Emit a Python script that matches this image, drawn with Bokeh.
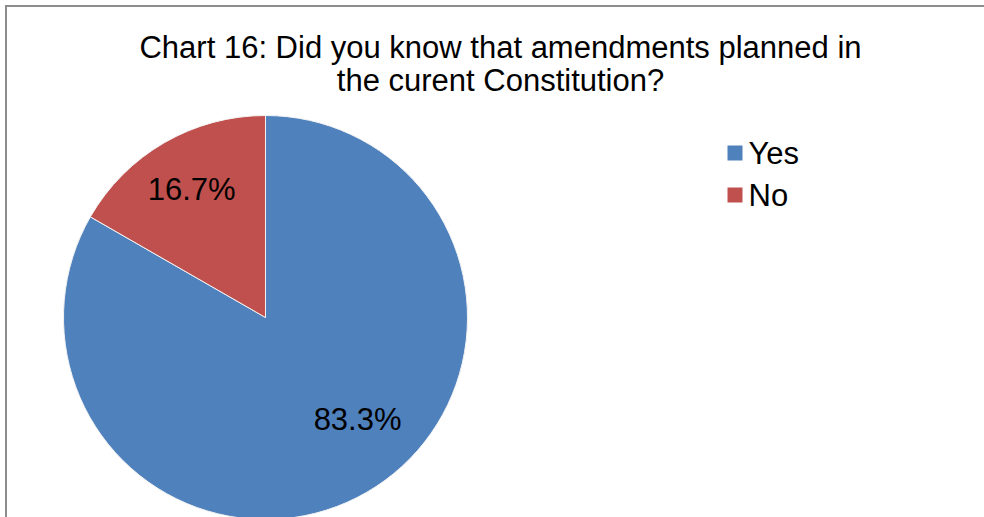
import math
from bokeh.plotting import figure
from bokeh.models import Range1d, ColumnDataSource
from bokeh.core.properties import value
from bokeh.embed import file_html
from bokeh.resources import INLINE

# ---- data ----
categories = ["Yes", "No"]
shares = [83.3, 16.7]
colors = ["#4F81BD", "#C0504D"]
title_lines = ["Chart 16: Did you know that amendments planned in",
               "the curent Constitution?"]

# ---- layout (plot pixel space: x right, y up) ----
W, H = 984, 517
CX, CY, R = 265, 200, 202
FONT = "Liberation Sans"
FS = "31px"

p = figure(width=W, height=H, output_backend="svg", toolbar_location=None,
           x_range=Range1d(0, W), y_range=Range1d(0, H))
p.axis.visible = False
p.grid.visible = False
p.min_border = 0
p.outline_line_color = None
p.background_fill_color = "white"
p.border_fill_color = "white"

# wedges
total = sum(shares)
starts, ends, mids = [], [], []
cum = 0.0
for s in shares:
    a0 = math.pi / 2 - cum / total * 2 * math.pi
    cum += s
    a1 = math.pi / 2 - cum / total * 2 * math.pi
    starts.append(a0)
    ends.append(a1)
    mids.append((a0 + a1) / 2)

src = ColumnDataSource(dict(cat=categories, share=shares, color=colors,
                            start=starts, end=ends))
p.wedge(x=CX, y=CY, radius=R, start_angle="start", end_angle="end",
        direction="clock", fill_color="color", line_color="#f2f2f2",
        line_width=1, source=src)

# data labels (Excel "best fit" placement)
label_r = [0.68, 0.73]
label_ang_shift = [0.21, 0.0]
lx, ly, lt = [], [], []
for i, s in enumerate(shares):
    a = mids[i] + label_ang_shift[i]
    lx.append(CX + label_r[i] * R * math.cos(a))
    ly.append(CY + label_r[i] * R * math.sin(a))
    lt.append(f"{s:.1f}%")
p.text(x=lx, y=ly, text=lt, text_align="center", text_baseline="middle",
       text_font=value(FONT), text_font_size=FS, text_color="black")

# title
p.text(x=[500, 500], y=[470, 437], text=title_lines, text_align="center",
       text_baseline="middle", text_font=value(FONT), text_font_size=FS,
       text_color="black")

# legend
leg_y = [364.5 - 42 * i for i in range(len(categories))]
p.rect(x=[734.5] * len(categories), y=leg_y, width=15, height=15,
       fill_color=colors, line_color=None)
p.text(x=[748] * len(categories), y=leg_y, text=categories, text_align="left",
       text_baseline="middle", text_font=value(FONT), text_font_size=FS,
       text_color="black")

# chart-area border (top and left visible)
p.line(x=[5, W + 2], y=[511.5, 511.5], line_color="#8c8c8c", line_width=2)
p.line(x=[5.5, 5.5], y=[-2, 512.5], line_color="#8c8c8c", line_width=2)

open("out.html", "w").write(file_html(p, INLINE))
